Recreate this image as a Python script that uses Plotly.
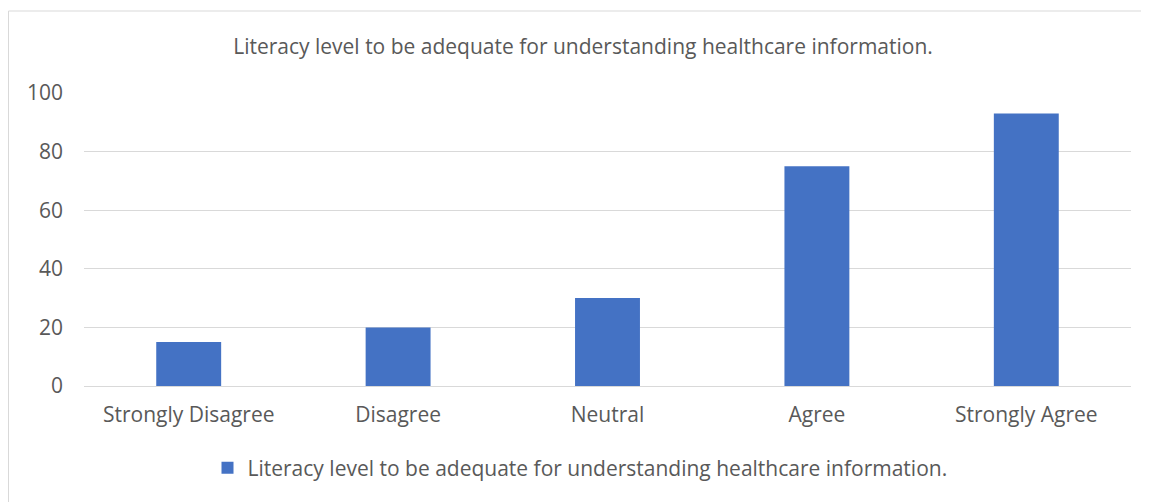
import plotly.graph_objects as go

categories = ["Strongly Disagree", "Disagree", "Neutral", "Agree", "Strongly Agree"]
values = [15, 20, 30, 75, 93]
series_name = "Literacy level to be adequate for understanding healthcare information."
title_text = "Literacy level to be adequate for understanding healthcare information."

BLUE = "#4472c4"
GREY_TEXT = "#595959"
GRID = "#d9d9d9"
FONT = "Open Sans, Calibri, sans-serif"
FS = 21

# the page keeps an 8px body margin, so all positions are given 8px up/left
W, H = 1141, 494
PL, PR, PT, PB = 76, 1123, 85, 378  # plot area in figure pixels
PW, PH = PR - PL, PB - PT

fig = go.Figure()
fig.add_trace(go.Bar(
    x=categories,
    y=values,
    name=series_name,
    marker=dict(color=BLUE, line=dict(width=0)),
    showlegend=True,
))

fig.update_layout(
    width=W,
    height=H,
    margin=dict(l=PL, r=W - PR, t=PT, b=H - PB, autoexpand=False),
    paper_bgcolor="white",
    plot_bgcolor="white",
    font=dict(family=FONT, size=FS, color=GREY_TEXT),
    bargap=0.69,
    title=dict(
        text=title_text,
        x=575 / W,
        xanchor="center",
        y=1 - 39 / H,
        yanchor="middle",
        font=dict(family=FONT, size=FS, color=GREY_TEXT),
    ),
    showlegend=True,
    legend=dict(
        orientation="h",
        x=(572 - PL) / PW,
        xanchor="center",
        y=(PB - 460) / PH,
        yanchor="middle",
        font=dict(family=FONT, size=FS, color=GREY_TEXT),
        itemwidth=30,
    ),
    xaxis=dict(
        showgrid=False,
        showline=False,
        ticks="",
        ticklabelstandoff=14,
        tickfont=dict(size=FS, color=GREY_TEXT),
    ),
    yaxis=dict(
        range=[0, 100],
        dtick=20,
        showgrid=True,
        gridcolor=GRID,
        gridwidth=1,
        zeroline=True,
        zerolinecolor=GRID,
        zerolinewidth=1,
        showline=False,
        ticks="",
        ticklabelstandoff=20,
        tickfont=dict(size=FS, color=GREY_TEXT),
    ),
)

# chart frame: only the left and top edges are visible in the picture
frame = dict(type="line", xref="paper", yref="paper",
             line=dict(color=GRID, width=1), layer="below")
x_left = (0.5 - PL) / PW
y_top = (PB - 3) / PH
fig.add_shape(x0=x_left, x1=x_left, y0=(PB - H) / PH, y1=y_top, **frame)
fig.add_shape(x0=x_left, x1=(W - PL) / PW, y0=y_top, y1=y_top, **frame)

fig.write_html("out.html")
